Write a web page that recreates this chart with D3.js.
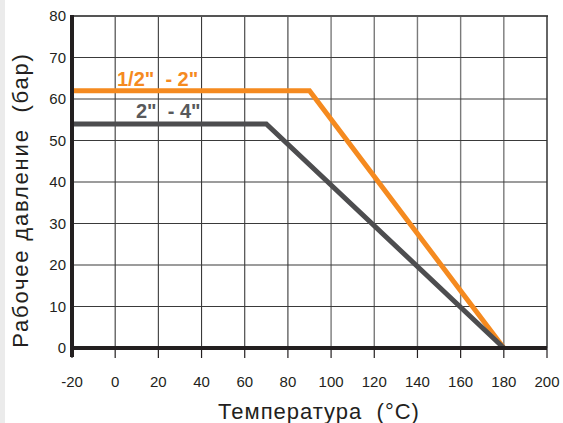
<!DOCTYPE html>
<html><head><meta charset="utf-8">
<script src="https://cdn.jsdelivr.net/npm/d3@7"></script>
<style>
html,body{margin:0;padding:0;background:#fff;}
svg{display:block;font-family:"Liberation Sans",Arial,sans-serif;}
</style></head>
<body>
<svg id="c" width="563" height="423"></svg>
<script>
const xTicks = [-20,0,20,40,60,80,100,120,140,160,180,200];
const yTicks = [0,10,20,30,40,50,60,70,80];
const seriesNames = ["1/2\"  - 2\"", "2\"  - 4\""];
const tempSmall = [-20, 90, 180];
const pressSmall = [62, 62, 0];
const tempLarge = [-20, 70, 180];
const pressLarge = [54, 54, 0];
const xTitle = "Температура  (°C)";
const yTitle = "Рабочее давление  (бар)";

const svg = d3.select("#c");
const L = 72, R = 547, T = 16, B = 348;
const x = d3.scaleLinear().domain([-20,200]).range([L,R]);
const y = d3.scaleLinear().domain([0,80]).range([B,T]);

svg.append("rect").attr("x",0).attr("y",0).attr("width",5).attr("height",423).attr("fill","#ebebeb");

// grid
svg.append("g").selectAll("line").data(xTicks.slice(1,-1)).join("line")
  .attr("x1",d=>x(d)).attr("x2",d=>x(d)).attr("y1",T).attr("y2",B)
  .attr("stroke",d=>d>=100?"#7a7a7a":"#3a3a3a").attr("stroke-width",d=>d>=100?1.4:1.1);
svg.append("g").selectAll("line").data(yTicks.slice(1,-1)).join("line")
  .attr("x1",L).attr("x2",R).attr("y1",d=>y(d)).attr("y2",d=>y(d))
  .attr("stroke","#3a3a3a").attr("stroke-width",1.1);
// top & right border
svg.append("line").attr("x1",L).attr("x2",R+1).attr("y1",y(80)).attr("y2",y(80)).attr("stroke","#555").attr("stroke-width",2);
svg.append("line").attr("x1",R).attr("x2",R).attr("y1",T).attr("y2",B).attr("stroke","#333").attr("stroke-width",1.5);

// x ticks
svg.append("g").selectAll("line").data(xTicks).join("line")
  .attr("x1",d=>x(d)).attr("x2",d=>x(d)).attr("y1",B).attr("y2",B+10)
  .attr("stroke","#231f20").attr("stroke-width",1.2);

// series lines
const line = d3.line().x(d=>x(d[0])).y(d=>y(d[1]));
svg.append("path").datum(d3.zip(tempSmall,pressSmall)).attr("d",line)
  .attr("fill","none").attr("stroke","#f58a1f").attr("stroke-width",5).attr("stroke-linejoin","miter");
svg.append("path").datum(d3.zip(tempLarge,pressLarge)).attr("d",line)
  .attr("fill","none").attr("stroke","#4d4d4f").attr("stroke-width",5).attr("stroke-linejoin","miter");

// axes
svg.append("line").attr("x1",L).attr("x2",L).attr("y1",T-1).attr("y2",B+9).attr("stroke","#231f20").attr("stroke-width",4);
svg.append("line").attr("x1",L-2).attr("x2",R).attr("y1",B).attr("y2",B).attr("stroke","#231f20").attr("stroke-width",4);

// tick labels
svg.append("g").selectAll("text").data(xTicks).join("text")
  .attr("x",d=>x(d)).attr("y",387).attr("text-anchor","middle")
  .attr("font-size",15).attr("fill","#231f20").text(d=>d);
svg.append("g").selectAll("text").data(yTicks).join("text")
  .attr("x",66).attr("y",d=>y(d)).attr("dy","0.36em").attr("text-anchor","end")
  .attr("font-size",15).attr("fill","#231f20").text(d=>d);

// series labels
svg.append("text").attr("x",117).attr("y",86).attr("font-size",20).attr("font-weight","bold")
  .attr("fill","#f58a1f").style("white-space","pre").text(seriesNames[0]);
svg.append("text").attr("x",136).attr("y",118).attr("font-size",20).attr("font-weight","bold")
  .attr("fill","#58595b").style("white-space","pre").text(seriesNames[1]);

// titles
svg.append("text").attr("x",319).attr("y",419).attr("text-anchor","middle").attr("font-size",22)
  .attr("letter-spacing",1).attr("fill","#231f20").style("white-space","pre").text(xTitle);
svg.append("text").attr("transform","translate(28,200) rotate(-90)").attr("text-anchor","middle").attr("font-size",22)
  .attr("letter-spacing",1.8).attr("fill","#231f20").style("white-space","pre").text(yTitle);
</script>
</body></html>
